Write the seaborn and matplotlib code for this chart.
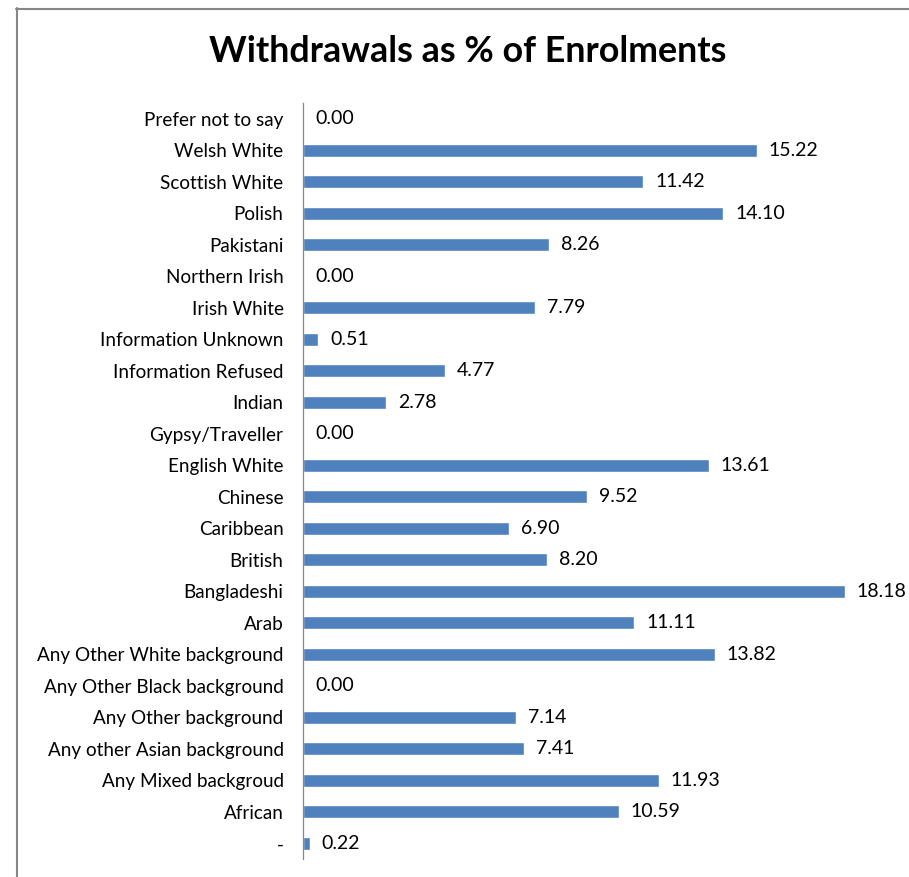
import matplotlib
matplotlib.use("Agg")
import matplotlib.pyplot as plt
import seaborn as sns
import pandas as pd
from matplotlib.lines import Line2D

categories = [
    "Prefer not to say", "Welsh White", "Scottish White", "Polish", "Pakistani",
    "Northern Irish", "Irish White", "Information Unknown", "Information Refused",
    "Indian", "Gypsy/Traveller", "English White", "Chinese", "Caribbean", "British",
    "Bangladeshi", "Arab", "Any Other White background", "Any Other Black background",
    "Any Other background", "Any other Asian background", "Any Mixed backgroud",
    "African", "-",
]
values = [
    0.00, 15.22, 11.42, 14.10, 8.26, 0.00, 7.79, 0.51, 4.77, 2.78, 0.00, 13.61,
    9.52, 6.90, 8.20, 18.18, 11.11, 13.82, 0.00, 7.14, 7.41, 11.93, 10.59, 0.22,
]

df = pd.DataFrame({"group": categories, "pct": values})

sns.set_theme(style="white")
plt.rcParams["font.family"] = ["Lato", "DejaVu Sans"]

W, H = 909, 877
fig = plt.figure(figsize=(W / 100, H / 100), dpi=100)
ax = fig.add_axes([303 / W, (H - 859) / H, (899 - 303) / W, (859 - 103) / H])

sns.barplot(data=df, x="pct", y="group", orient="h", color="#4F81BD",
            saturation=1, width=0.42, ax=ax)

ax.set_xlim(0, 20)
ax.set_ylim(len(categories) - 0.5, -0.5)
ax.set_xlabel("")
ax.set_ylabel("")
ax.set_xticks([])
for side in ("top", "right", "bottom"):
    ax.spines[side].set_visible(False)
ax.spines["left"].set_color("#868686")
ax.spines["left"].set_linewidth(0.9)
ax.tick_params(axis="y", length=0, pad=14, labelsize=13.6, labelcolor="#000000")

for i, v in enumerate(values):
    ax.annotate(f"{v:.2f}", xy=(v, i), xytext=(12, 0), textcoords="offset pixels",
                va="center", ha="left", fontsize=14, color="#000000")

fig.text(468 / W, 1 - 51 / H, "Withdrawals as % of Enrolments", ha="center",
         va="center", fontsize=25.8, fontweight="bold", color="#000000")

# chart frame
fig.add_artist(Line2D([16.5 / W, 16.5 / W], [1 - 8 / H, 0], transform=fig.transFigure,
                      color="#868686", lw=1.5))
fig.add_artist(Line2D([16 / W, 1], [1 - 8.5 / H, 1 - 8.5 / H], transform=fig.transFigure,
                      color="#868686", lw=1.5))

fig.savefig("out.png", dpi=100, facecolor="white")
